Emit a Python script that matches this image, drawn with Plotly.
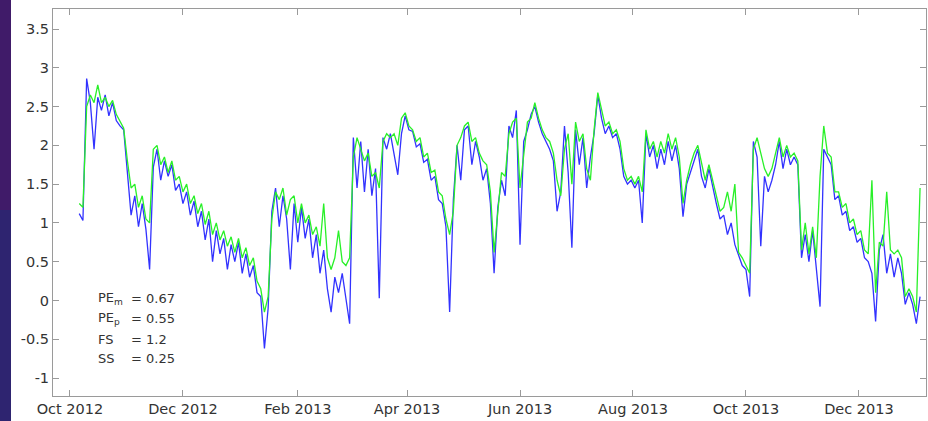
import pandas as pd
import plotly.graph_objects as go

# sampled every 2 days starting 2012-10-06
start_date = "2012-10-06"

observed = [
    1.12, 1.03, 2.86, 2.55, 1.95, 2.62, 2.45, 2.65, 2.38, 2.55,
    2.32, 2.25, 2.20, 1.62, 1.10, 1.35, 0.95, 1.25, 0.92, 0.40,
    1.72, 1.95, 1.55, 1.80, 1.60, 1.75, 1.42, 1.50, 1.25, 1.40,
    1.10, 1.28, 0.95, 1.15, 0.78, 1.05, 0.50, 0.90, 0.60, 0.80,
    0.40, 0.72, 0.50, 0.75, 0.35, 0.60, 0.30, 0.45, 0.10, 0.05,
    -0.62, -0.10, 1.15, 1.45, 0.95, 1.35, 1.05, 0.40, 1.25, 0.75,
    1.20, 0.80, 1.05, 0.55, 0.85, 0.35, 0.65, 0.15, -0.15, 0.30,
    0.10, 0.35, 0.05, -0.30, 2.10, 1.45, 2.05, 1.40, 1.95, 1.35,
    1.70, 0.03, 2.10, 1.95, 2.15, 1.90, 1.62, 2.15, 2.38, 2.20,
    2.18, 1.98, 2.02, 1.78, 1.82, 1.55, 1.60, 1.30, 1.25, 0.95,
    -0.15, 1.30, 2.00, 1.55, 2.20, 2.25, 1.75, 2.05, 1.85, 1.55,
    1.70, 1.25, 0.35, 1.20, 1.55, 1.35, 2.25, 2.10, 2.45, 0.72,
    2.05, 2.20, 2.40, 2.50, 2.30, 2.15, 2.05, 1.95, 1.80, 1.15,
    1.40, 2.25, 1.65, 0.68, 2.20, 1.75, 2.10, 1.45, 1.85, 2.15,
    2.65, 2.35, 2.15, 2.25, 2.10, 2.15, 1.95, 1.60, 1.50, 1.55,
    1.45, 1.55, 1.00, 2.15, 1.85, 2.00, 1.70, 1.95, 1.75, 2.05,
    1.80, 2.00, 1.70, 1.08, 1.50, 1.65, 1.80, 1.95, 1.60, 1.45,
    1.70, 1.45, 1.25, 1.05, 1.10, 0.85, 1.00, 0.72, 0.58, 0.45,
    0.40, 0.05, 2.05, 1.85, 0.70, 1.60, 1.40, 1.55, 1.75, 2.05,
    1.70, 1.95, 1.75, 1.85, 1.75, 0.55, 0.85, 0.50, 0.90, 0.45,
    -0.08, 1.95, 1.85, 1.75, 1.30, 1.35, 1.10, 1.15, 0.90, 0.95,
    0.75, 0.80, 0.55, 0.50, 0.35, -0.27, 0.65, 0.85, 0.35, 0.60,
    0.30, 0.55, 0.35, -0.05, 0.10, -0.05, -0.30, 0.05,
]

modelled = [
    1.25, 1.20, 2.50, 2.65, 2.55, 2.78, 2.55, 2.62, 2.50, 2.58,
    2.40, 2.30, 2.22, 1.80, 1.45, 1.50, 1.20, 1.35, 1.05, 1.00,
    1.95, 2.00, 1.75, 1.85, 1.65, 1.80, 1.55, 1.60, 1.40, 1.50,
    1.25, 1.35, 1.12, 1.25, 0.98, 1.15, 0.85, 1.00, 0.78, 0.90,
    0.70, 0.82, 0.62, 0.80, 0.55, 0.68, 0.45, 0.55, 0.25, 0.15,
    -0.15, 0.05, 1.05, 1.40, 1.30, 1.45, 1.10, 1.30, 1.35, 1.00,
    1.25, 1.00, 1.10, 0.85, 0.95, 0.70, 1.25, 0.55, 0.40, 0.55,
    0.90, 0.50, 0.45, 0.55, 1.85, 2.10, 1.95, 1.80, 1.90, 1.60,
    1.65, 1.45, 2.05, 2.15, 2.10, 2.15, 2.00, 2.35, 2.42, 2.25,
    2.20, 2.05, 2.10, 1.85, 1.90, 1.65, 1.68, 1.40, 1.35, 1.05,
    0.85, 1.15, 2.00, 2.10, 2.25, 2.30, 2.05, 2.10, 1.90, 1.80,
    1.75, 1.40, 0.62, 1.10, 1.65, 1.60, 2.15, 2.30, 2.35, 1.45,
    1.90, 2.30, 2.35, 2.55, 2.35, 2.20, 2.10, 2.05, 1.90, 1.55,
    1.35, 1.95, 2.15, 1.50, 2.30, 2.05, 2.15, 1.70, 1.55, 2.20,
    2.68, 2.45, 2.25, 2.30, 2.15, 2.20, 2.05, 1.70, 1.55, 1.60,
    1.50, 1.60, 1.40, 2.20, 1.95, 2.05, 1.85, 2.05, 1.90, 2.15,
    1.95, 2.10, 1.85, 1.25, 1.55, 1.75, 1.90, 2.00, 1.75, 1.55,
    1.75, 1.55, 1.35, 1.15, 1.20, 1.40, 1.15, 1.50, 0.62, 0.55,
    0.45, 0.35, 1.95, 2.10, 1.90, 1.70, 1.60, 1.70, 1.90, 2.10,
    1.85, 2.00, 1.85, 1.90, 1.80, 0.65, 1.00, 0.60, 0.95, 0.55,
    1.60, 2.25, 1.90, 1.85, 1.40, 1.40, 1.20, 1.25, 1.00, 1.05,
    0.85, 0.90, 0.65, 0.60, 1.55, 0.10, 0.75, 0.70, 1.40, 0.65,
    0.60, 0.65, 0.55, 0.05, 0.15, 0.05, -0.15, 1.45,
]

tick_dates = ["2012-10-01", "2012-12-01", "2013-02-01", "2013-04-01",
              "2013-06-01", "2013-08-01", "2013-10-01", "2013-12-01"]
tick_labels = ["Oct 2012", "Dec 2012", "Feb 2013", "Apr 2013",
               "Jun 2013", "Aug 2013", "Oct 2013", "Dec 2013"]
y_ticks = [-1, -0.5, 0, 0.5, 1, 1.5, 2, 2.5, 3, 3.5]
y_labels = ["-1", "-0.5", "0", "0.5", "1", "1.5", "2", "2.5", "3", "3.5"]

stat_names = ["PE<sub>m</sub>", "PE<sub>p</sub>", "FS", "SS"]
stat_values = ["= 0.67", "= 0.55", "= 1.2", "= 0.25"]

n = min(len(observed), len(modelled))
dates = pd.date_range(start_date, periods=n, freq="2D")

fig = go.Figure()
fig.add_trace(go.Scatter(x=dates, y=observed[:n], mode="lines",
                         line=dict(color="rgb(50,50,255)", width=1.3),
                         showlegend=False))
fig.add_trace(go.Scatter(x=dates, y=modelled[:n], mode="lines",
                         line=dict(color="rgb(40,240,40)", width=1.3),
                         showlegend=False))

W, H = 928, 421
L, R, T, B = 53, 2, 9, 25
pw, ph = W - L - R, H - T - B

def px(xp):
    return (xp - L) / pw

def py(yp):
    return (H - B - yp) / ph

line_y = [298.5, 318.5, 339, 358.5]
for name, val, yy in zip(stat_names, stat_values, line_y):
    fig.add_annotation(x=px(96), y=py(yy), xref="paper", yref="paper",
                       text=name, showarrow=False, xanchor="left", yanchor="middle",
                       font=dict(family="DejaVu Sans", size=13, color="#333333"))
    fig.add_annotation(x=px(129), y=py(yy), xref="paper", yref="paper",
                       text=val, showarrow=False, xanchor="left", yanchor="middle",
                       font=dict(family="DejaVu Sans", size=13, color="#333333"))

# dark slide strip on the left edge
fig.add_shape(type="rect", xref="paper", yref="paper",
              x0=px(0), x1=px(11), y0=py(210), y1=py(0),
              fillcolor="#401b69", line=dict(width=0), layer="below")
fig.add_shape(type="rect", xref="paper", yref="paper",
              x0=px(0), x1=px(11), y0=py(H), y1=py(210),
              fillcolor="#2e2470", line=dict(width=0), layer="below")

axis_common = dict(showgrid=False, zeroline=False, showline=True,
                   linecolor="#9a9a9a", linewidth=1, mirror="ticks",
                   ticks="inside", ticklen=6, tickcolor="#9a9a9a", tickwidth=1,
                   tickfont=dict(family="DejaVu Sans", size=14.5, color="#333333"))

fig.update_xaxes(range=["2012-09-21 20:00", "2014-01-06 05:00"],
                 tickvals=tick_dates, ticktext=tick_labels, **axis_common)
fig.update_yaxes(range=[-1.232, 3.758], tickvals=y_ticks, ticktext=y_labels,
                 **axis_common)

fig.update_layout(width=W, height=H, margin=dict(l=L, r=R, t=T, b=B),
                  paper_bgcolor="white", plot_bgcolor="white")

fig.write_html("out.html")
